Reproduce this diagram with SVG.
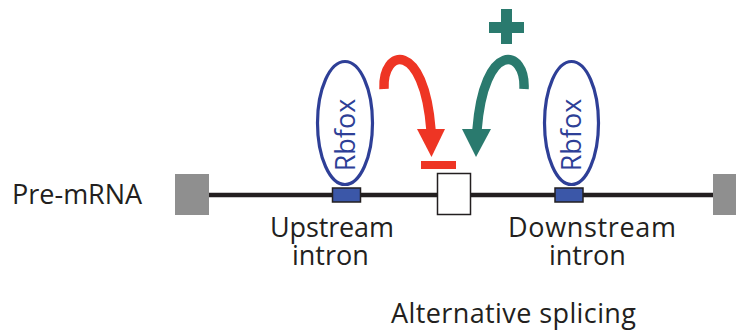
<svg xmlns="http://www.w3.org/2000/svg" width="736" height="334" viewBox="0 0 736 334">
<style>
.lbl{font-family:"Open Sans","Noto Sans",sans-serif;font-size:27px;fill:#231f20}
.rb{font-family:"Open Sans","Noto Sans",sans-serif;font-size:27px;fill:#2e3f97}
.ell{fill:none;stroke:#2e3f97;stroke-width:3.2}
.site{fill:#3b57a8;stroke:#231f20;stroke-width:1.5}
.cap{fill:#8f8f8f}
</style>
<rect width="736" height="334" fill="#ffffff"/>
<g id="premrna">
<line x1="204" y1="195" x2="714" y2="195" stroke="#231f20" stroke-width="4.5"/>
<rect class="cap" x="175" y="174" width="34" height="41"/>
<rect class="cap" x="713" y="174" width="24" height="41"/>
<text class="lbl" x="12" y="204">Pre-mRNA</text>
</g>
<g id="exon">
<rect x="437.5" y="173.5" width="33" height="41" fill="#ffffff" stroke="#231f20" stroke-width="1.5"/>
</g>
<g id="upstream">
<ellipse class="ell" cx="345" cy="123" rx="27.5" ry="61.5"/>
<text class="rb" transform="translate(355,135) rotate(-90)" text-anchor="middle">Rbfox</text>
<rect class="site" x="332.5" y="188" width="28" height="14"/>
<text class="lbl"><tspan x="270" y="237" textLength="124">Upstream</tspan><tspan x="292" y="265">intron</tspan></text>
</g>
<g id="downstream">
<ellipse class="ell" cx="571.5" cy="123" rx="27" ry="61.5"/>
<text class="rb" transform="translate(580.5,135) rotate(-90)" text-anchor="middle">Rbfox</text>
<rect class="site" x="555" y="188" width="28" height="14"/>
<text class="lbl"><tspan x="508" y="237" textLength="168">Downstream</tspan><tspan x="549" y="265">intron</tspan></text>
</g>
<g id="connectors">
<path d="M384,89 C382,48 424,40 431,130" fill="none" stroke="#ee3524" stroke-width="9.5"/>
<polygon points="417,129 445,129 431.5,157" fill="#ee3524"/>
<rect x="421" y="161" width="35" height="8" fill="#ee3524"/>
<path d="M524,89 C526,48 484,40 477,130" fill="none" stroke="#2a7a6e" stroke-width="9.5"/>
<polygon points="462,129 491,129 476,157" fill="#2a7a6e"/>
<rect x="489" y="22" width="35" height="11" fill="#2a7a6e"/>
<rect x="501" y="9" width="11" height="35" fill="#2a7a6e"/>
</g>
<g id="caption">
<text class="lbl" x="391" y="323" textLength="245">Alternative splicing</text>
</g>
</svg>
